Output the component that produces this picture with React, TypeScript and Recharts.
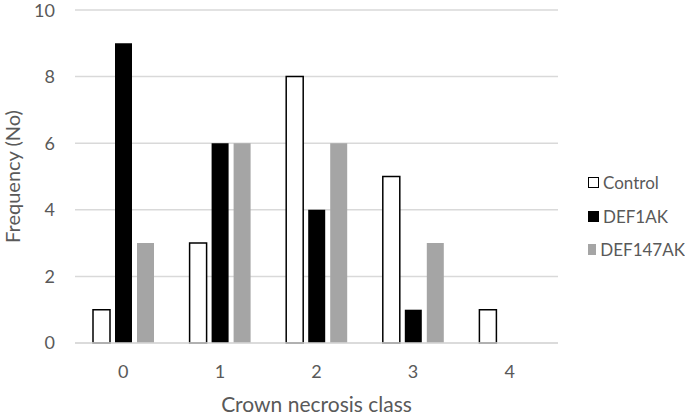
import React from 'react';
import { BarChart, Bar, XAxis, YAxis, CartesianGrid, Legend } from 'recharts';

const categories = ['0', '1', '2', '3', '4'];
const controlValues = [1, 3, 8, 5, 1];
const def1akValues = [9, 6, 4, 1, 0];
const def147akValues = [3, 6, 6, 3, 0];
const yTicks = [0, 2, 4, 6, 8, 10];
const seriesNames = ['Control', 'DEF1AK', 'DEF147AK'];
const seriesColors = ['#ffffff', '#000000', '#a5a5a5'];

const data = categories.map((c, i) => ({
  cls: c,
  Control: controlValues[i],
  DEF1AK: def1akValues[i],
  DEF147AK: def147akValues[i],
}));

const FONT = 'Lato, "Liberation Sans", sans-serif';
const TEXT = '#595959';

// legend keeps the series order (recharts would sort it by name)
const renderLegend = () => (
  <div style={{ fontFamily: FONT, fontSize: 17, color: TEXT }}>
    {seriesNames.map((name, i) => {
      const isControl = i === 0;
      return (
        <div key={name} style={{ display: 'flex', alignItems: 'center', height: 33.5 }}>
          <span
            style={{
              display: 'inline-block',
              width: isControl ? 9 : 11,
              height: isControl ? 9 : 11,
              background: seriesColors[i],
              border: isControl ? '1.5px solid #000' : 'none',
              marginRight: 4,
            }}
          />
          <span>{name}</span>
        </div>
      );
    })}
  </div>
);

export default function App() {
  return (
    <div style={{ position: 'absolute', left: 0, top: 0, background: '#fff' }}>
      <BarChart
        width={685}
        height={418}
        data={data}
        margin={{ top: 10, right: 127, left: 0, bottom: 0 }}
        barSize={17}
        barGap={5}
      >
        <CartesianGrid vertical={false} stroke="#d9d9d9" strokeWidth={1.5} />
        <XAxis
          dataKey="cls"
          height={75}
          tickLine={false}
          tickSize={0}
          tickMargin={22}
          axisLine={{ stroke: '#d9d9d9', strokeWidth: 1.5 }}
          tick={{ fill: TEXT, fontSize: 18, fontFamily: FONT }}
          label={{
            value: 'Crown necrosis class',
            position: 'insideBottom',
            offset: 6,
            style: { fill: TEXT, fontSize: 21, fontFamily: FONT },
          }}
        />
        <YAxis
          width={75}
          domain={[0, 10]}
          ticks={yTicks}
          axisLine={false}
          tickLine={false}
          tickSize={0}
          tickMargin={20}
          tick={{ fill: TEXT, fontSize: 18, fontFamily: FONT }}
          label={{
            value: 'Frequency (No)',
            angle: -90,
            position: 'insideLeft',
            offset: 13,
            style: { fill: TEXT, fontSize: 20, fontFamily: FONT, textAnchor: 'middle' },
          }}
        />
        <Legend
          layout="vertical"
          align="center"
          verticalAlign="middle"
          content={renderLegend}
          wrapperStyle={{ left: 588, top: 166, width: 97 }}
        />
        <Bar dataKey="Control" fill={seriesColors[0]} stroke="#000000" strokeWidth={1.5} isAnimationActive={false} />
        <Bar dataKey="DEF1AK" fill={seriesColors[1]} isAnimationActive={false} />
        <Bar dataKey="DEF147AK" fill={seriesColors[2]} isAnimationActive={false} />
      </BarChart>
    </div>
  );
}
